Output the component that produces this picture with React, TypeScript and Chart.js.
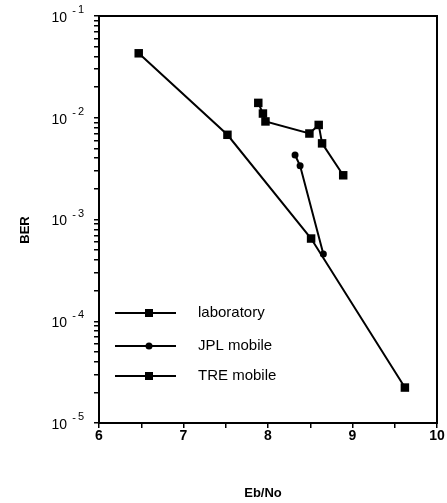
import React, { useEffect, useRef } from 'react';
import { Chart, registerables } from 'chart.js';

Chart.register(...registerables);

// ---- data ----
const seriesNames = ['laboratory', 'JPL mobile', 'TRE mobile'];
const labEbNo = [6.47, 7.52, 8.51, 9.62];
const labBER = [0.043, 0.0068, 0.00065, 0.0000223];
const jplEbNo = [8.32, 8.38, 8.655];
const jplBER = [0.0043, 0.00337, 0.000457];
const treEbNo = [7.885, 7.94, 7.97, 8.49, 8.6, 8.64, 8.89];
const treBER = [0.014, 0.011, 0.0092, 0.007, 0.0085, 0.0056, 0.00272];
const xTickValues = [6, 7, 8, 9, 10];
const yDecadeExponents = [-5, -4, -3, -2, -1];
const xTitle = 'Eb/No';
const yTitle = 'BER';

const FONT = '"Liberation Sans", Arial, Helvetica, sans-serif';

const legendPlugin = {
  id: 'insideLegend',
  afterDatasetsDraw(chart: any) {
    const { ctx, chartArea } = chart;
    const ys = [chartArea.bottom - 110, chartArea.bottom - 77, chartArea.bottom - 47];
    ctx.save();
    chart.data.datasets.forEach((ds: any, i: number) => {
      const y = ys[i];
      const x0 = chartArea.left + 16;
      const x1 = chartArea.left + 77;
      const xm = chartArea.left + 50;
      ctx.strokeStyle = '#000';
      ctx.lineWidth = 2;
      ctx.beginPath();
      ctx.moveTo(x0, y);
      ctx.lineTo(x1, y);
      ctx.stroke();
      ctx.fillStyle = '#000';
      if (ds.pointStyle === 'rect') {
        ctx.fillRect(xm - 4, y - 4, 8, 8);
      } else {
        ctx.beginPath();
        ctx.arc(xm, y, 3.5, 0, Math.PI * 2);
        ctx.fill();
      }
      ctx.font = '15px ' + FONT;
      ctx.textBaseline = 'middle';
      ctx.textAlign = 'left';
      ctx.fillText(ds.label, chartArea.left + 99, y);
    });
    ctx.restore();
  },
};

const framePlugin = {
  id: 'frameAndTitles',
  afterDraw(chart: any) {
    const { ctx, chartArea, scales } = chart;
    ctx.save();
    ctx.strokeStyle = '#000';
    ctx.lineWidth = 2;
    ctx.strokeRect(chartArea.left, chartArea.top, chartArea.right - chartArea.left, chartArea.bottom - chartArea.top);
    ctx.fillStyle = '#000';
    // y decade labels: "10" with raised exponent
    const ys = scales.y;
    const ax = chartArea.left;
    yDecadeExponents.forEach((e) => {
      const y = ys.getPixelForValue(Math.pow(10, e));
      ctx.font = '14px ' + FONT;
      ctx.textAlign = 'right';
      ctx.textBaseline = 'middle';
      ctx.fillText('10', ax - 32, y + 2);
      ctx.font = '11px ' + FONT;
      ctx.textAlign = 'center';
      ctx.fillText('-', ax - 25, y - 5);
      ctx.textAlign = 'left';
      ctx.fillText(String(Math.abs(e)), ax - 21, y - 6);
    });
    ctx.font = 'bold 13px ' + FONT;
    ctx.textAlign = 'center';
    ctx.textBaseline = 'middle';
    ctx.fillText(xTitle, chartArea.left + 164, chartArea.bottom + 70);
    ctx.translate(25, chartArea.top + 214);
    ctx.rotate(-Math.PI / 2);
    ctx.fillText(yTitle, 0, 0);
    ctx.restore();
  },
};

const toPoints = (xs: number[], ys: number[]) => xs.map((x, i) => ({ x, y: ys[i] }));

export default function App() {
  const ref = useRef<HTMLCanvasElement>(null);
  useEffect(() => {
    if (!ref.current) return;
    const common = {
      showLine: true,
      borderColor: '#000',
      backgroundColor: '#000',
      borderWidth: 2,
      pointBorderWidth: 0,
      pointHoverRadius: 0,
    };
    const chart = new Chart(ref.current, {
      type: 'scatter',
      data: {
        datasets: [
          { ...common, label: seriesNames[0], data: toPoints(labEbNo, labBER), pointStyle: 'rect', pointRadius: 6 },
          { ...common, label: seriesNames[1], data: toPoints(jplEbNo, jplBER), pointStyle: 'circle', pointRadius: 3.5 },
          { ...common, label: seriesNames[2], data: toPoints(treEbNo, treBER), pointStyle: 'rect', pointRadius: 6 },
        ],
      },
      options: {
        animation: false,
        responsive: false,
        maintainAspectRatio: false,
        layout: { padding: { top: 16, right: 10, left: 0, bottom: 0 } },
        plugins: { legend: { display: false }, tooltip: { enabled: false } },
        scales: {
          x: {
            type: 'linear',
            min: 6,
            max: 10,
            afterFit: (s: any) => { s.height = 80; },
            afterBuildTicks: (s: any) => {
              const t: any[] = [];
              xTickValues.forEach((v, i) => {
                t.push({ value: v });
                if (i < xTickValues.length - 1) t.push({ value: v + 0.5 });
              });
              s.ticks = t;
            },
            ticks: {
              autoSkip: false,
              maxRotation: 0,
              color: '#000',
              padding: 0,
              font: { family: FONT, size: 14, weight: 'bold' },
              callback: (v: any) => (xTickValues.includes(Number(v)) ? String(v) : ''),
            },
            grid: { drawOnChartArea: false, drawTicks: true, tickLength: 5, color: '#000', lineWidth: 1.5 },
            border: { display: true, color: '#000', width: 2 },
          },
          y: {
            type: 'logarithmic',
            min: 1e-5,
            max: 1e-1,
            afterFit: (s: any) => { s.width = 99; },
            afterBuildTicks: (s: any) => {
              const t: any[] = [];
              yDecadeExponents.forEach((e, i) => {
                if (i === yDecadeExponents.length - 1) {
                  t.push({ value: Math.pow(10, e), major: true });
                } else {
                  for (let m = 1; m <= 9; m++) t.push({ value: m * Math.pow(10, e), major: m === 1 });
                }
              });
              s.ticks = t;
            },
            ticks: {
              autoSkip: false,
              color: '#000',
              padding: 3,
              font: { family: FONT, size: 14 },
              callback: () => '',
            },
            grid: { drawOnChartArea: false, drawTicks: true, tickLength: 5, color: '#000', lineWidth: 1.5 },
            border: { display: true, color: '#000', width: 2 },
          },
        },
      },
      plugins: [legendPlugin, framePlugin],
    } as any);
    return () => chart.destroy();
  }, []);
  return (
    <div style={{ position: 'absolute', left: 0, top: 0, width: 447, height: 503, background: '#fff' }}>
      <canvas ref={ref} width={447} height={503} />
    </div>
  );
}
